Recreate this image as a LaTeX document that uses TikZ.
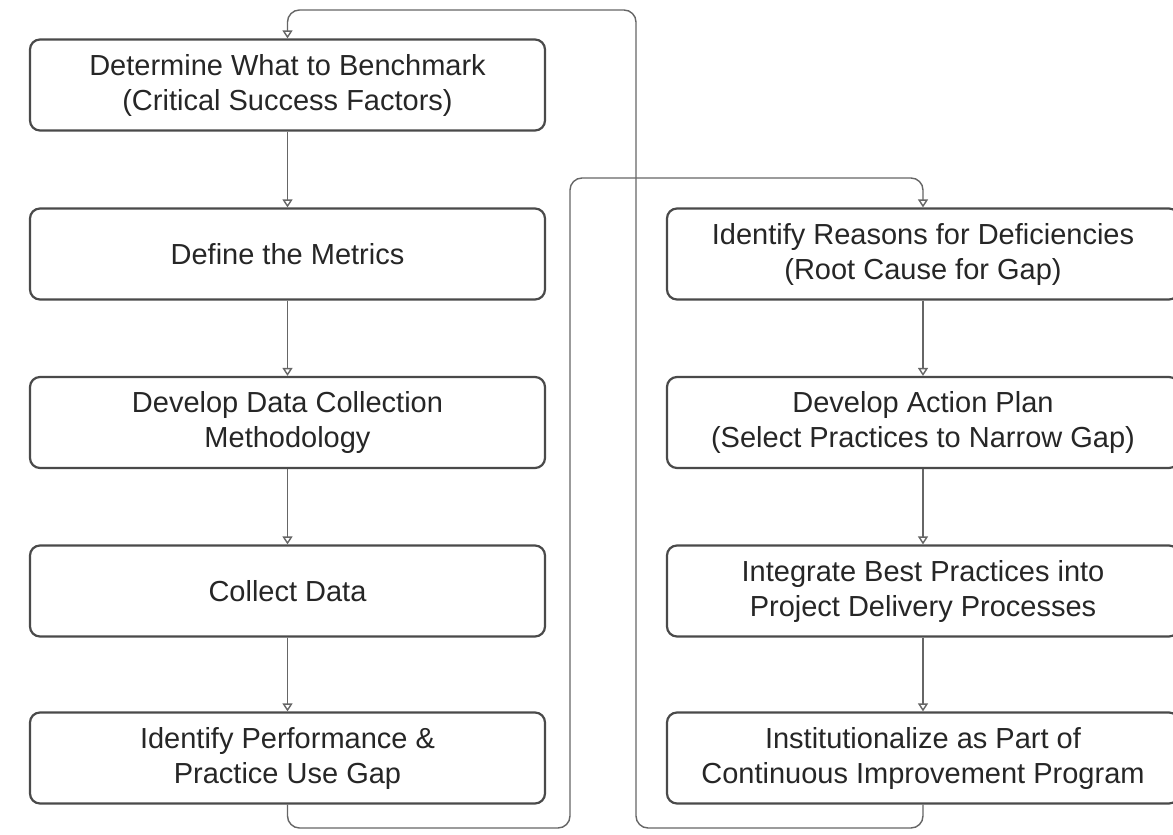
\documentclass[tikz,border=0pt]{standalone}
\usepackage{fontspec}
\setmainfont{Liberation Sans}
\usetikzlibrary{arrows.meta}
\definecolor{boxline}{HTML}{4A4A4A}
\definecolor{txt}{HTML}{262626}
\definecolor{conn}{HTML}{666666}
\begin{document}
\begin{tikzpicture}[x=1pt,y=-1pt,
  stepbox/.style={draw=boxline, line width=2.2pt, rounded corners=10pt, minimum height=91pt,
    align=center, text=txt, font=\fontsize{29}{35}\selectfont, inner sep=0pt},
  leftbox/.style={stepbox, minimum width=515pt},
  rightbox/.style={stepbox, minimum width=512pt},
  flow/.style={draw=conn, line width=1.4pt, -{Triangle[open, length=8pt, width=10pt]}},
  loop/.style={flow, rounded corners=12pt}]
\useasboundingbox (0,0) rectangle (1173,835);
\node[leftbox] (l1) at (287.5,85) {Determine What to Benchmark\\(Critical Success Factors)};
\node[leftbox] (l2) at (287.5,254) {Define the Metrics};
\node[leftbox] (l3) at (287.5,422.5) {Develop Data Collection\\Methodology};
\node[leftbox] (l4) at (287.5,591) {Collect Data};
\node[leftbox] (l5) at (287.5,758) {Identify Performance \&\\Practice Use Gap};
\node[rightbox] (r1) at (923,254) {Identify Reasons for Deficiencies\\(Root Cause for Gap)};
\node[rightbox] (r2) at (923,422.5) {Develop Action Plan\\(Select Practices to Narrow Gap)};
\node[rightbox] (r3) at (923,591) {Integrate Best Practices into\\Project Delivery Processes};
\node[rightbox] (r4) at (923,758) {Institutionalize as Part of\\Continuous Improvement Program};
\draw[flow] (l1) -- (l2);
\draw[flow] (l2) -- (l3);
\draw[flow] (l3) -- (l4);
\draw[flow] (l4) -- (l5);
\draw[flow] (r1) -- (r2);
\draw[flow] (r2) -- (r3);
\draw[flow] (r3) -- (r4);
\coordinate (a1) at (l5.south |- 0,828);
\coordinate (a2) at (570,828);
\coordinate (a3) at (570,178);
\coordinate (a4) at (r1.north |- 0,178);
\draw[loop] (l5.south) -- (a1) -- (a2) -- (a3) -- (a4) -- (r1.north);
\coordinate (b1) at (r4.south |- 0,828);
\coordinate (b2) at (636,828);
\coordinate (b3) at (636,10);
\coordinate (b4) at (l1.north |- 0,10);
\draw[loop] (r4.south) -- (b1) -- (b2) -- (b3) -- (b4) -- (l1.north);
\end{tikzpicture}
\end{document}
